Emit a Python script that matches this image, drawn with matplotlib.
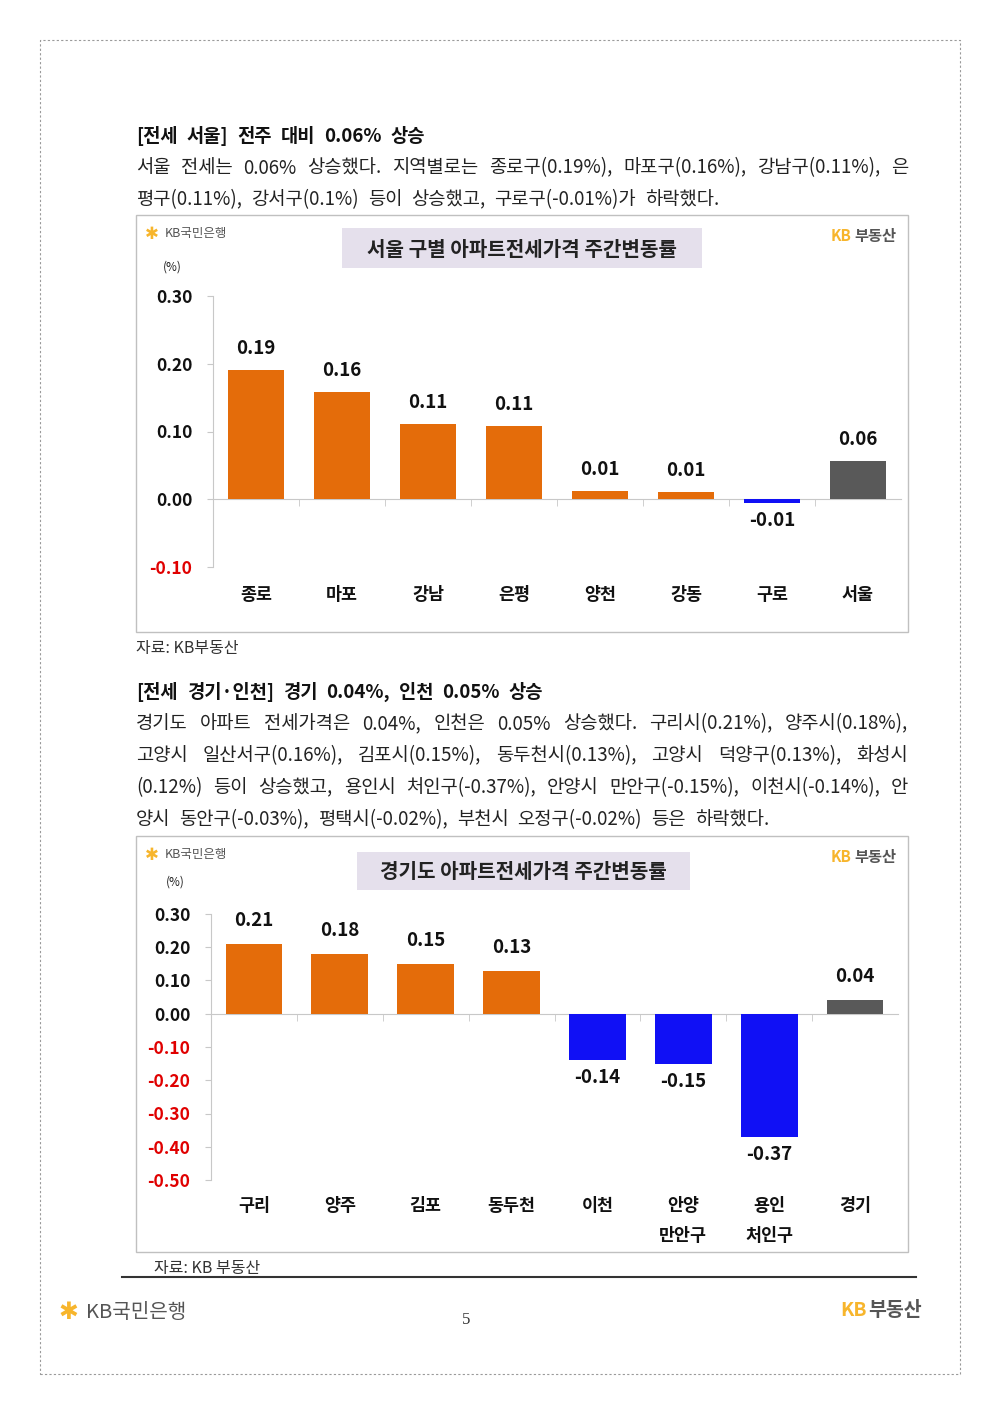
import matplotlib
matplotlib.use("Agg")
import matplotlib.pyplot as plt
from matplotlib.patches import Rectangle
from matplotlib.lines import Line2D

plt.rcParams['font.family'] = ['Noto Sans CJK KR', 'DejaVu Sans']

W, H = 1000, 1414

# ---- data ----
seoul_cats = ['종로', '마포', '강남', '은평', '양천', '강동', '구로', '서울']
seoul_vals = [0.19, 0.16, 0.11, 0.11, 0.01, 0.01, -0.01, 0.06]
seoul_bar_vals = [0.191, 0.158, 0.111, 0.108, 0.012, 0.01, -0.006, 0.057]
seoul_yticks = [-0.10, 0.00, 0.10, 0.20, 0.30]

gg_cats = ['구리', '양주', '김포', '동두천', '이천', '안양\n만안구', '용인\n처인구', '경기']
gg_vals = [0.21, 0.18, 0.15, 0.13, -0.14, -0.15, -0.37, 0.04]
gg_yticks = [-0.50, -0.40, -0.30, -0.20, -0.10, 0.00, 0.10, 0.20, 0.30]

head1 = "[전세 서울] 전주 대비 0.06% 상승"
para1 = [
    ("서울 전세는 0.06% 상승했다. 지역별로는 종로구(0.19%), 마포구(0.16%), 강남구(0.11%), 은", True),
    ("평구(0.11%), 강서구(0.1%) 등이 상승했고, 구로구(-0.01%)가 하락했다.", False),
]
head2 = "[전세 경기·인천] 경기 0.04%, 인천 0.05% 상승"
para2 = [
    ("경기도 아파트 전세가격은 0.04%, 인천은 0.05% 상승했다. 구리시(0.21%), 양주시(0.18%),", True),
    ("고양시 일산서구(0.16%), 김포시(0.15%), 동두천시(0.13%), 고양시 덕양구(0.13%), 화성시", True),
    ("(0.12%) 등이 상승했고, 용인시 처인구(-0.37%), 안양시 만안구(-0.15%), 이천시(-0.14%), 안", True),
    ("양시 동안구(-0.03%), 평택시(-0.02%), 부천시 오정구(-0.02%) 등은 하락했다.", False),
]

ORANGE = '#E46C0A'
BLUE = '#1010F5'
GREY = '#595959'
YELLOW = '#F7B52C'
AXIS = '#C8C8C8'

fig = plt.figure(figsize=(W / 100, H / 100), dpi=100)
renderer = fig.canvas.get_renderer()


def fx(x):
    return x / W


def fy(y):
    return 1 - y / H


def rect(x0, y0, x1, y1, **kw):
    fig.patches.append(Rectangle((fx(x0), fy(y1)), (x1 - x0) / W, (y1 - y0) / H,
                                 transform=fig.transFigure, figure=fig, **kw))


def text_width(t):
    return t.get_window_extent(renderer).width


def write_line(line, x0, x1, y, justify, size=13.5, gap=9, weight='normal', color='#222222'):
    words = line.split(' ')
    ts = [fig.text(0, fy(y), w, fontsize=size, color=color, va='center', fontweight=weight)
          for w in words]
    widths = [text_width(t) for t in ts]
    if justify and len(ts) > 1:
        gap = (x1 - x0 - sum(widths)) / (len(ts) - 1)
    x = x0
    for t, w in zip(ts, widths):
        t.set_x(fx(x))
        x += w + gap


def kb_budongsan(x_right, y, size):
    t2 = fig.text(fx(x_right), fy(y), '부동산', fontsize=size, fontweight='bold',
                  color='#555555', ha='right', va='center')
    w2 = text_width(t2)
    fig.text(fx(x_right - w2 - 2), fy(y), 'KB', fontsize=size, fontweight='bold',
             color=YELLOW, ha='right', va='center')


def kb_bank(x, y, size, star_size):
    fig.text(fx(x), fy(y), '✱', fontsize=star_size, color=YELLOW, va='center',
             family=['DejaVu Sans'])
    fig.text(fx(x + star_size * 1.65), fy(y), 'KB국민은행', fontsize=size, color='#555555',
             va='center')


def bar_chart(box, title_box, title, axpos, cats, vals, bar_vals, yticks, ylim,
              cat_y, pct_xy, lab_up, lab_dn):
    rect(*box, facecolor='none', edgecolor='#C0C0C0', lw=1)
    rect(*title_box, facecolor='#E5E0EC', edgecolor='none')
    fig.text(fx((title_box[0] + title_box[2]) / 2), fy((title_box[1] + title_box[3]) / 2 + 1),
             title, fontsize=14.5, fontweight='bold', color='#222222', ha='center', va='center')
    kb_bank(box[0] + 9, box[1] + 19, 9, 12)
    kb_budongsan(box[2] - 12, box[1] + 21, 11)
    fig.text(fx(pct_xy[0]), fy(pct_xy[1]), '(%)', fontsize=8.5, color='#222222',
             ha='center', va='center')

    ax = fig.add_axes([fx(axpos[0]), fy(axpos[3]), (axpos[2] - axpos[0]) / W,
                       (axpos[3] - axpos[1]) / H])
    ax.patch.set_alpha(0)
    x = list(range(len(cats)))
    colors = [GREY if i == len(cats) - 1 else (ORANGE if v >= 0 else BLUE)
              for i, v in enumerate(vals)]
    ax.bar(x, bar_vals, width=0.66, color=colors, zorder=3)
    ax.set_xlim(-0.5, len(cats) - 0.5)
    ax.set_ylim(*ylim)

    for s in ['top', 'right']:
        ax.spines[s].set_visible(False)
    ax.spines['left'].set_color(AXIS)
    ax.spines['bottom'].set_position(('data', 0))
    ax.spines['bottom'].set_color(AXIS)
    ax.set_xticks([])
    ax.set_xticks([i + 0.5 for i in range(len(cats) - 1)], minor=True)
    ax.tick_params(axis='x', which='minor', length=5, color=AXIS, direction='out')

    ax.set_yticks(yticks)
    ax.set_yticklabels(['%.2f' % t for t in yticks])
    ax.tick_params(axis='y', length=4, color=AXIS, pad=11, labelsize=12.5)
    for lab, t in zip(ax.get_yticklabels(), yticks):
        lab.set_fontweight('bold')
        lab.set_color('#E00000' if t < 0 else '#111111')

    for i, (v, bv) in enumerate(zip(vals, bar_vals)):
        if v >= 0:
            ax.annotate('%.2f' % v, (i, bv), xytext=(0, lab_up), textcoords='offset pixels',
                        ha='center', va='bottom', fontsize=13.5, fontweight='bold',
                        color='#111111')
        else:
            ax.annotate('%.2f' % v, (i, bv), xytext=(0, -lab_dn), textcoords='offset pixels',
                        ha='center', va='top', fontsize=13.5, fontweight='bold',
                        color='#111111')

    for i, c in enumerate(cats):
        for k, part in enumerate(c.split('\n')):
            ax.annotate(part, (i, 0), xycoords=('data', 'axes fraction'),
                        xytext=(0, -(cat_y - axpos[3]) - 30 * k), textcoords='offset pixels',
                        ha='center', va='center', fontsize=12.5, fontweight='bold',
                        color='#111111')
    return ax


# page border
rect(40, 40, 960, 1374, facecolor='none', edgecolor='#9A9A9A', lw=0.8, ls=(0, (2, 2)))

# section 1
write_line(head1, 136, 908, 136, False, size=13.5, gap=9, weight='bold', color='#111111')
for k, (line, just) in enumerate(para1):
    write_line(line, 136, 908, 168 + 32 * k, just)

bar_chart((136, 215, 908, 632), (342, 228, 702, 268), '서울 구별 아파트전세가격 주간변동률',
          (213, 296, 901, 567), seoul_cats, seoul_vals, seoul_bar_vals, seoul_yticks,
          (-0.10, 0.30), 595, (172, 267), 12, 8)
fig.text(fx(136), fy(648), '자료: KB부동산', fontsize=11.5, color='#333333', va='center')

# section 2
write_line(head2, 136, 908, 692, False, size=13.5, gap=9, weight='bold', color='#111111')
for k, (line, just) in enumerate(para2):
    write_line(line, 136, 908, 724 + 32 * k, just)

bar_chart((136, 836, 908, 1252), (357, 852, 690, 890), '경기도 아파트전세가격 주간변동률',
          (211, 914, 898, 1180), gg_cats, gg_vals, gg_vals, gg_yticks,
          (-0.50, 0.30), 1206, (175, 882), 14, 8)
fig.text(fx(154), fy(1269), '자료: KB 부동산', fontsize=11.5, color='#333333', va='center')

# footer
fig.lines.append(Line2D([fx(122), fx(916)], [fy(1277), fy(1277)], transform=fig.transFigure,
                        color='#333333', lw=1.5))
kb_bank(58, 1312, 14.5, 17)
fig.text(fx(466), fy(1320), '5', fontsize=12, family=['Liberation Serif'], color='#333333',
         ha='center', va='center')
kb_budongsan(922, 1310, 14)

fig.savefig('out.png', dpi=100, facecolor='white')
